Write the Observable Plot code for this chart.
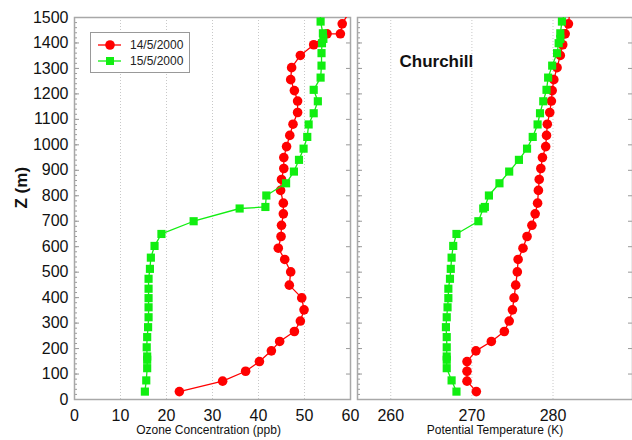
<!DOCTYPE html>
<html><head><meta charset="utf-8">
<script src="https://cdn.jsdelivr.net/npm/d3@7"></script>
<script src="https://cdn.jsdelivr.net/npm/@observablehq/plot@0.6"></script>
<style>
body{margin:0;background:#fff;font-family:"Liberation Sans",Arial,sans-serif;}
#wrap{position:relative;width:632px;height:440px;overflow:hidden;background:#fff;}
#left{position:absolute;left:0;top:0;z-index:2;}
#right{position:absolute;left:352px;top:0;z-index:1;}
#legend{position:absolute;left:90px;top:32px;width:98px;height:39px;border:1px solid #999;background:#fff;font-size:12px;color:#222;z-index:3;}
.row{position:absolute;left:0;height:16px;display:flex;align-items:center;}
.row svg{display:block;margin-left:6px;}
.row span{margin-left:9px;}
</style></head><body>
<div id="wrap"><div id="left"></div><div id="right"></div><div id="legend"></div></div>
<script>
// ---- data ----
const seriesNames = ["14/5/2000", "15/5/2000"];
const zRed = [31,72,111,149,191,228,267,308,352,399,449,501,550,594,640,684,729,771,821,864,907,950,993,1037,1081,1127,1172,1213,1256,1303,1351,1393,1436,1436,1475,1530];
const o3Red = [22.8,32.2,37.2,40.2,42.8,44.6,47.8,49.1,49.9,49.4,46.7,47.0,45.7,44.3,44.9,45.0,45.4,45.4,44.8,45.0,45.5,45.5,46.1,46.8,47.5,48.5,48.5,47.8,47.0,47.2,49.1,52.0,54.9,57.8,58.2,60.0];
const thetaRed = [270.55,269.4,269.4,269.4,270.5,272.4,274.0,274.6,275.0,275.2,275.4,275.6,275.7,276.3,276.8,277.4,277.8,278.1,278.2,278.3,278.5,278.7,279.1,279.2,279.3,279.6,279.8,279.9,280.1,280.5,280.9,281.2,281.4,281.5,281.9,282.1];
const zGreen = [31,75,123,156,169,205,245,284,323,362,398,435,474,513,557,603,650,700,750,756,801,849,895,941,985,1031,1080,1124,1171,1216,1264,1311,1360,1399,1416,1438,1484,1530];
const o3Green = [15.3,15.6,15.8,15.8,15.8,15.7,15.8,16.0,16.1,16.1,16.1,16.1,16.1,16.4,16.6,17.4,18.9,25.9,35.9,41.5,41.7,46.0,47.7,48.8,49.8,50.6,50.9,52.0,52.9,52.0,53.5,53.7,53.7,53.8,54.1,54.0,53.5,53.4];
const thetaGreen = [268.1,267.5,266.9,266.9,266.9,266.9,266.9,266.8,266.9,267.0,267.1,267.1,267.3,267.4,267.5,267.7,268.1,270.8,271.4,271.6,272.1,273.4,274.6,275.8,276.8,277.5,278.1,278.4,278.8,279.2,279.4,279.9,280.5,280.7,280.9,280.9,281.1,281.6];
const zTicks = [0,100,200,300,400,500,600,700,800,900,1000,1100,1200,1300,1400,1500];
const o3Ticks = [0,10,20,30,40,50,60];
const thetaTicks = [260,270,280];
const stationName = "Churchill";
const xLabelO3 = "Ozone Concentration (ppb)";
const xLabelTheta = "Potential Temperature (K)";
const yLabel = "Z (m)";

// ---- style ----
const RED = "#ff0000", GREEN = "#11ee11";
const FONT = "'Liberation Sans', Arial, sans-serif";
const red = zRed.map((z, i) => ({z, o3: o3Red[i], th: thetaRed[i]}));
const green = zGreen.map((z, i) => ({z, o3: o3Green[i], th: thetaGreen[i]}));
const minor = d3.range(0, 1501, 20);
const fmt = d3.format("d");

function profileMarks(key) {
  return [
    Plot.line(red, {x: key, y: "z", stroke: RED, strokeWidth: 1.3, clip: true}),
    Plot.dot(red, {x: key, y: "z", symbol: "circle", r: 4.8, fill: RED, stroke: "none", clip: true}),
    Plot.line(green, {x: key, y: "z", stroke: GREEN, strokeWidth: 1.3, clip: true}),
    Plot.dot(green, {x: key, y: "z", symbol: "square", r: 4.6, fill: GREEN, stroke: "none", clip: true})
  ];
}
function edgeTicks(showLabels) {
  return [
    Plot.axisY(minor, {anchor: "left", tickSize: -3, tickFormat: () => "", label: null, stroke: "#999"}),
    Plot.axisY(zTicks, {anchor: "left", tickSize: -5, tickFormat: () => "", label: null, stroke: "#999"}),
    Plot.axisY(zTicks, {anchor: "right", tickSize: -5, tickFormat: () => "", label: null, stroke: "#999"}),
    ...(showLabels ? [Plot.axisY(zTicks, {anchor: "left", tickSize: 0, tickPadding: 6, fontSize: 16, tickFormat: fmt, label: null})] : [])
  ];
}

const left = Plot.plot({
  width: 352, height: 440,
  marginLeft: 74, marginRight: 2, marginTop: 17, marginBottom: 41,
  style: {fontFamily: FONT, background: "transparent", color: "#111", overflow: "visible"},
  x: {domain: [0, 60]},
  y: {domain: [0, 1500]},
  marks: [
    Plot.gridX(o3Ticks.slice(1, -1), {stroke: "#c8c8c8", strokeOpacity: 1, strokeDasharray: "1,2"}),
    Plot.axisX(o3Ticks, {tickSize: 0, tickPadding: 10, fontSize: 16, tickFormat: fmt, label: null}),
    ...edgeTicks(true),
    Plot.frame({stroke: "#a8a8a8", strokeWidth: 1.5}),
    ...profileMarks("o3"),
    Plot.text([xLabelO3], {text: d => d, frameAnchor: "bottom", dy: 34, dx: -4, fontSize: 12}),
    Plot.text([yLabel], {text: d => d, frameAnchor: "left", dx: -53, rotate: -90, fontSize: 17, fontWeight: "bold"})
  ]
});
document.getElementById("left").append(left);

const right = Plot.plot({
  width: 280, height: 440,
  marginLeft: 5, marginRight: 0, marginTop: 17, marginBottom: 41,
  style: {fontFamily: FONT, background: "transparent", color: "#111", overflow: "visible"},
  x: {domain: [255.9, 289.8]},
  y: {domain: [0, 1500]},
  marks: [
    Plot.gridX(thetaTicks, {stroke: "#c8c8c8", strokeOpacity: 1, strokeDasharray: "1,2"}),
    Plot.axisX(thetaTicks, {tickSize: 0, tickPadding: 10, fontSize: 16, tickFormat: fmt, label: null}),
    ...edgeTicks(false),
    Plot.frame({stroke: "#a8a8a8", strokeWidth: 1.5}),
    ...profileMarks("th"),
    Plot.text([xLabelTheta], {text: d => d, frameAnchor: "bottom", dy: 34, fontSize: 12}),
    Plot.text([stationName], {text: d => d, frameAnchor: "top-left", dx: 42, dy: 37, textAnchor: "start", fontSize: 17, fontWeight: "bold"})
  ]
});
document.getElementById("right").append(right);

// ---- legend ----
const legend = document.getElementById("legend");
[[seriesNames[0], RED, "circle"], [seriesNames[1], GREEN, "square"]].forEach(([name, color, shape], i) => {
  const row = document.createElement("div");
  row.className = "row";
  row.style.top = (4 + i * 16) + "px";
  const marker = shape === "circle"
    ? `<circle cx="13" cy="8" r="4.8" fill="${color}"/>`
    : `<rect x="9" y="4" width="8" height="8" fill="${color}"/>`;
  row.innerHTML = `<svg width="24" height="16"><line x1="1" x2="24" y1="8" y2="8" stroke="${color}" stroke-width="1.3"/>${marker}</svg><span>${name}</span>`;
  legend.append(row);
});
</script>
</body></html>
